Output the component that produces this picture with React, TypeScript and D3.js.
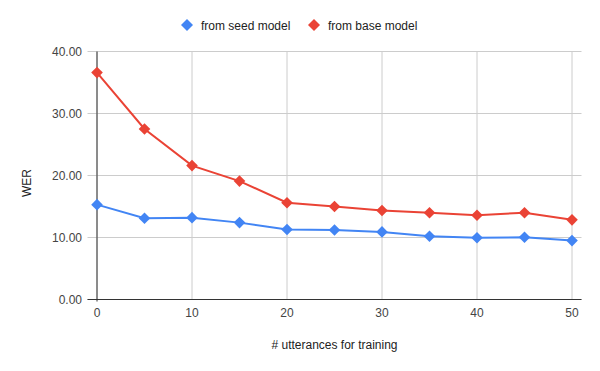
import React from "react";
import * as d3 from "d3";

const xValues = [0, 5, 10, 15, 20, 25, 30, 35, 40, 45, 50];
const seedModel = [15.3, 13.1, 13.2, 12.4, 11.3, 11.2, 10.9, 10.2, 9.95, 10.05, 9.5];
const baseModel = [36.6, 27.5, 21.6, 19.1, 15.6, 15.0, 14.35, 14.0, 13.6, 14.0, 12.85];
const seriesNames = ["from seed model", "from base model"];
const seriesColors = ["#4285F4", "#EA4335"];
const yTicks = [0, 10, 20, 30, 40];
const xTicks = [0, 10, 20, 30, 40, 50];
const xTitle = "# utterances for training";
const yTitle = "WER";

const W = 600;
const H = 371;
const FONT = "Arial, 'Liberation Sans', sans-serif";

export default function App() {
  const x = d3.scaleLinear().domain([-1, 51]).range([87.5, 581.5]);
  const y = d3.scaleLinear().domain([0, 40]).range([299.5, 51.5]);
  const series = [seedModel, baseModel];
  const line = d3
    .line<number>()
    .x((_, i) => x(xValues[i]))
    .y((d) => y(d));
  const diamond = (cx: number, cy: number, r: number) =>
    `M${cx},${cy - r}L${cx + r},${cy}L${cx},${cy + r}L${cx - r},${cy}Z`;

  const legendX = [187, 314];
  return (
    <svg
      width={W}
      height={H}
      style={{ position: "absolute", left: 0, top: 0, background: "#fff" }}
      fontFamily={FONT}
    >
      <rect width={W} height={H} fill="#fff" />
      {yTicks.map((t) => (
        <g key={"y" + t}>
          <line x1={x(-1)} x2={x(51)} y1={y(t)} y2={y(t)} stroke="#cccccc" strokeWidth={1} />
          <text x={82} y={y(t) + 4.5} textAnchor="end" fontSize={12} fill="#444">
            {t.toFixed(2)}
          </text>
        </g>
      ))}
      {xTicks.map((t) => (
        <g key={"x" + t}>
          <line x1={x(t)} x2={x(t)} y1={y(40)} y2={y(0)} stroke="#cccccc" strokeWidth={1} />
          <text x={x(t)} y={317} textAnchor="middle" fontSize={12} fill="#444">
            {t}
          </text>
        </g>
      ))}
      <line x1={x(0)} x2={x(0)} y1={y(40)} y2={y(0) + 2} stroke="#333" strokeWidth={1} />
      <line x1={x(-1)} x2={x(51)} y1={y(0)} y2={y(0)} stroke="#333" strokeWidth={1} />
      {series.map((s, si) => (
        <g key={"s" + si}>
          <path d={line(s) || ""} fill="none" stroke={seriesColors[si]} strokeWidth={2} />
          {s.map((v, i) => (
            <path key={i} d={diamond(x(xValues[i]), y(v), 5.8)} fill={seriesColors[si]} />
          ))}
        </g>
      ))}
      {seriesNames.map((n, i) => (
        <g key={"l" + i}>
          <path d={diamond(legendX[i], 25, 6)} fill={seriesColors[i]} />
          <text x={legendX[i] + 14} y={29.5} fontSize={12} fill="#222">
            {n}
          </text>
        </g>
      ))}
      <text x={x(25)} y={348.5} textAnchor="middle" fontSize={12} fill="#222">
        {xTitle}
      </text>
      <text
        transform={`translate(${31},${183}) rotate(-90)`}
        textAnchor="middle"
        fontSize={12}
        fill="#222"
      >
        {yTitle}
      </text>
    </svg>
  );
}
